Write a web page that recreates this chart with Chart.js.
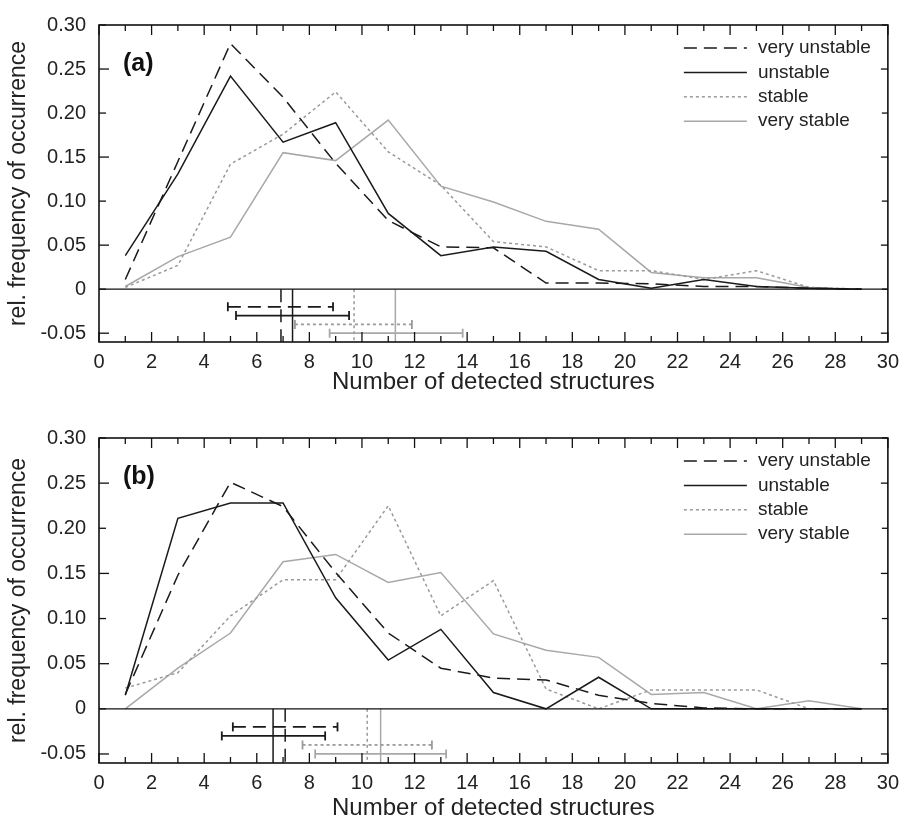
<!DOCTYPE html>
<html>
<head>
<meta charset="utf-8">
<title>Number of detected structures</title>
<script src="https://cdn.jsdelivr.net/npm/chart.js@4.4.1/dist/chart.umd.min.js"></script>
<style>
  body { margin: 0; background: #fff; }
  .panel { position: absolute; left: 0; width: 907px; height: 413px; }
</style>
</head>
<body>
<div class="panel" style="top:0"><canvas id="chartA"></canvas></div>
<div class="panel" style="top:413px"><canvas id="chartB"></canvas></div>
<script>
const FONT = '"Liberation Sans", Arial, Helvetica, sans-serif';

// --- DATA ---
const xValues = [1, 3, 5, 7, 9, 11, 13, 15, 17, 19, 21, 23, 25, 27, 29];
const seriesNames = ['very unstable', 'unstable', 'stable', 'very stable'];

// panel (a)
const aVeryUnstable = [0.011, 0.145, 0.279, 0.218, 0.143, 0.078, 0.048, 0.047, 0.007, 0.007, 0.006, 0.003, 0.003, 0.001, 0];
const aUnstable     = [0.038, 0.131, 0.242, 0.167, 0.189, 0.086, 0.038, 0.048, 0.043, 0.011, 0.001, 0.011, 0.003, 0.001, 0];
const aStable       = [0.002, 0.027, 0.142, 0.176, 0.224, 0.156, 0.118, 0.054, 0.048, 0.021, 0.021, 0.011, 0.021, 0.002, 0];
const aVeryStable   = [0.003, 0.037, 0.059, 0.155, 0.146, 0.192, 0.117, 0.099, 0.077, 0.068, 0.019, 0.013, 0.013, 0.002, 0];
const aMean = [6.92, 7.36, 9.70, 11.27];
const aLow  = [4.90, 5.21, 7.45, 8.77];
const aHigh = [8.90, 9.51, 11.90, 13.83];

// panel (b)
const bVeryUnstable = [0.016, 0.148, 0.251, 0.224, 0.151, 0.084, 0.045, 0.034, 0.032, 0.015, 0.006, 0.001, 0, 0, 0];
const bUnstable     = [0.015, 0.211, 0.228, 0.228, 0.123, 0.054, 0.088, 0.018, 0, 0.035, 0, 0, 0, 0, 0];
const bStable       = [0.023, 0.040, 0.103, 0.143, 0.143, 0.225, 0.103, 0.142, 0.022, 0, 0.021, 0.021, 0.021, 0, 0];
const bVeryStable   = [0, 0.045, 0.084, 0.163, 0.171, 0.140, 0.151, 0.083, 0.065, 0.057, 0.016, 0.018, 0, 0.009, 0];
const bMean = [7.08, 6.62, 10.20, 10.71];
const bLow  = [5.09, 4.67, 7.74, 8.22];
const bHigh = [9.07, 8.60, 12.66, 13.20];

// error bars sit at these levels below zero
const errY = [-0.02, -0.03, -0.04, -0.05];

// axis ticks
const yMin = -0.06, yMax = 0.30;
const yTickValues = [-0.05, -0.025, 0, 0.025, 0.05, 0.075, 0.10, 0.125, 0.15, 0.175, 0.20, 0.225, 0.25, 0.275, 0.30];
const yTickLabels = ['-0.05', '', '0', '', '0.05', '', '0.10', '', '0.15', '', '0.20', '', '0.25', '', '0.30'];
const xTickValues = [0, 1, 2, 3, 4, 5, 6, 7, 8, 9, 10, 11, 12, 13, 14, 15, 16, 17, 18, 19, 20, 21, 22, 23, 24, 25, 26, 27, 28, 29, 30];
const xTickLabels = ['0', '', '2', '', '4', '', '6', '', '8', '', '10', '', '12', '', '14', '', '16', '', '18', '', '20', '', '22', '', '24', '', '26', '', '28', '', '30'];

// --- STYLES ---
const seriesStyles = [
  { color: '#1a1a1a', dash: [13, 7] },
  { color: '#1a1a1a', dash: [] },
  { color: '#9a9a9a', dash: [3, 3] },
  { color: '#a8a8a8', dash: [] }
];

function buildDatasets(curves, low, high, mean) {
  const sets = curves.map((vals, i) => ({
    label: seriesNames[i],
    data: xValues.map((x, k) => ({ x: x, y: vals[k] })),
    borderColor: seriesStyles[i].color,
    borderDash: seriesStyles[i].dash,
    borderWidth: 1.5,
    pointRadius: 0,
    tension: 0,
    fill: false
  }));
  curves.forEach((_, i) => {
    const st = seriesStyles[i];
    // range bar with end caps
    sets.push({
      label: seriesNames[i] + ' range',
      data: [{ x: low[i], y: errY[i] }, { x: high[i], y: errY[i] }],
      borderColor: st.color,
      borderDash: st.dash,
      borderWidth: 1.8,
      pointStyle: 'line',
      rotation: 90,
      pointRadius: 4.5,
      pointBorderWidth: 1.8,
      pointBorderColor: st.color,
      fill: false
    });
    // mean marker
    sets.push({
      label: seriesNames[i] + ' mean',
      data: [{ x: mean[i], y: 0 }, { x: mean[i], y: yMin }],
      borderColor: st.color,
      borderDash: st.dash,
      borderWidth: 1.5,
      pointRadius: 0,
      fill: false
    });
  });
  return sets;
}

// frame, zero line, inward ticks, legend and panel letter
const decorations = {
  id: 'decorations',
  afterDatasetsDraw(chart, args, opts) {
    const ctx = chart.ctx;
    const a = chart.chartArea;
    const xs = chart.scales.x, ys = chart.scales.y;
    const line = (x1, y1, x2, y2) => { ctx.beginPath(); ctx.moveTo(x1, y1); ctx.lineTo(x2, y2); ctx.stroke(); };

    ctx.save();
    ctx.strokeStyle = '#111';
    ctx.lineWidth = 1.3;
    ctx.setLineDash([]);

    xs.ticks.forEach((t, i) => {
      const px = xs.getPixelForValue(t.value);
      const len = xTickLabels[i] ? 10 : 6;
      line(px, a.bottom, px, a.bottom - len);
      line(px, a.top, px, a.top + len);
    });
    ys.ticks.forEach((t, i) => {
      const py = ys.getPixelForValue(t.value);
      const major = !!yTickLabels[i];
      line(a.left, py, a.left + (major ? 10 : 7), py);
      line(a.right, py, a.right - (major ? 7 : 6), py);
    });

    const y0 = ys.getPixelForValue(0);
    line(a.left, y0, a.right, y0);

    ctx.lineWidth = 1.6;
    ctx.strokeRect(a.left, a.top, a.right - a.left, a.bottom - a.top);

    // panel letter
    ctx.fillStyle = '#111';
    ctx.font = 'bold 25px ' + FONT;
    ctx.textAlign = 'left';
    ctx.textBaseline = 'middle';
    ctx.fillText(opts.letter, a.left + 24, a.top + 39);

    // legend (first four datasets)
    ctx.font = '19px ' + FONT;
    for (let i = 0; i < 4; i++) {
      const ds = chart.data.datasets[i];
      const ly = a.top + 23 + i * 24.4;
      ctx.strokeStyle = ds.borderColor;
      ctx.lineWidth = 1.5;
      ctx.setLineDash(ds.borderDash);
      line(a.right - 204, ly, a.right - 141, ly);
      ctx.setLineDash([]);
      ctx.fillStyle = '#222';
      ctx.fillText(ds.label, a.right - 130, ly);
    }
    ctx.restore();
  }
};

function makePanel(canvasId, letter, curves, low, high, mean, topPad, xBoxHeight, titlePad) {
  return new Chart(document.getElementById(canvasId), {
    type: 'line',
    data: { datasets: buildDatasets(curves, low, high, mean) },
    plugins: [decorations],
    options: {
      responsive: true,
      maintainAspectRatio: false,
      animation: false,
      events: [],
      layout: { padding: { left: 0, right: 18, top: topPad, bottom: 0 } },
      scales: {
        x: {
          type: 'linear',
          min: 0,
          max: 30,
          afterBuildTicks: s => { s.ticks = xTickValues.map(v => ({ value: v })); },
          afterFit: s => { s.height = xBoxHeight; },
          grid: { display: false, drawTicks: false },
          border: { display: false },
          ticks: {
            autoSkip: false,
            maxRotation: 0,
            padding: 8,
            color: '#222',
            font: { family: FONT, size: 20 },
            callback: (v, i) => xTickLabels[i]
          },
          title: {
            display: true,
            text: 'Number of detected structures',
            color: '#222',
            font: { family: FONT, size: 24 },
            padding: { top: 0, bottom: titlePad }
          }
        },
        y: {
          type: 'linear',
          min: yMin,
          max: yMax,
          afterBuildTicks: s => { s.ticks = yTickValues.map(v => ({ value: v })); },
          afterFit: s => { s.width = 99; },
          grid: { display: false, drawTicks: false },
          border: { display: false },
          ticks: {
            padding: 13,
            color: '#222',
            font: { family: FONT, size: 20 },
            callback: (v, i) => yTickLabels[i]
          },
          title: {
            display: true,
            text: 'rel. frequency of occurrence',
            color: '#222',
            font: { family: FONT, size: 23 },
            padding: { top: 5, bottom: 0 }
          }
        }
      },
      plugins: {
        legend: { display: false },
        tooltip: { enabled: false },
        decorations: { letter: letter }
      }
    }
  });
}

makePanel('chartA', '(a)', [aVeryUnstable, aUnstable, aStable, aVeryStable], aLow, aHigh, aMean, 17, 71, 16.6);
makePanel('chartB', '(b)', [bVeryUnstable, bUnstable, bStable, bVeryStable], bLow, bHigh, bMean, 25, 63, 2.9);
</script>
</body>
</html>
